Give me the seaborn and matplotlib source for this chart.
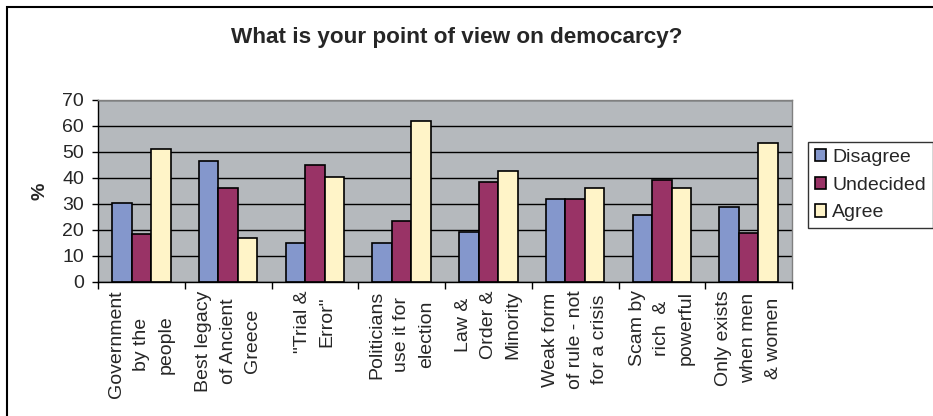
import matplotlib
matplotlib.use("Agg")
import matplotlib.pyplot as plt
import matplotlib.patches as patches
import numpy as np
import pandas as pd
import seaborn as sns

categories = [
    "Government\nby the\npeople",
    "Best legacy\nof Ancient\nGreece",
    "\"Trial &\nError\"",
    "Politicians\nuse it for\nelection",
    "Law &\nOrder &\nMinority",
    "Weak form\nof rule - not\nfor a crisis",
    "Scam by\nrich  &\npowerful",
    "Only exists\nwhen men\n& women",
]
disagree = [30.3, 46.7, 15.1, 15.1, 19.1, 32.0, 25.8, 28.7]
undecided = [18.6, 36.2, 44.9, 23.3, 38.5, 32.0, 39.2, 18.7]
agree = [51.3, 17.0, 40.3, 61.8, 42.7, 36.3, 36.3, 53.3]
series = ["Disagree", "Undecided", "Agree"]
colors = ["#8497cc", "#993366", "#fff4c8"]

df = pd.DataFrame({
    "category": categories * 3,
    "answer": [s for s in series for _ in categories],
    "value": disagree + undecided + agree,
})

sns.set_style("white")
plt.rcParams["font.family"] = ["Liberation Sans", "DejaVu Sans"]

fig = plt.figure(figsize=(9.33, 4.16), dpi=100)
ax = fig.add_axes([98 / 933, 1 - 282 / 416, 694 / 933, 182 / 416])

sns.barplot(data=df, x="category", y="value", hue="answer", hue_order=series,
            palette=colors, width=0.675, edgecolor="black", linewidth=1.2,
            saturation=1, ax=ax, legend=True)

ax.set_facecolor("#b5b9bd")
ax.set_ylim(0, 70)
ax.set_xlim(-0.5, len(categories) - 0.5)
ax.set_yticks(range(0, 71, 10))
ax.yaxis.grid(True, color="black", linewidth=1.0)
ax.set_axisbelow(True)

# group separators as major ticks, labels on minor ticks
ax.set_xticks(np.arange(-0.5, len(categories), 1.0))
ax.set_xticklabels([])
ax.set_xticks(range(len(categories)), minor=True)
ax.set_xticklabels(categories, minor=True, rotation=90, ha="center", va="top",
                   ma="center", linespacing=1.6, fontsize=14)
ax.tick_params(axis="x", which="major", direction="out", length=5, width=1, color="black", bottom=True)
ax.tick_params(axis="x", which="minor", length=0, pad=6)
ax.tick_params(axis="y", direction="out", length=4, width=1, color="black", pad=6,
               labelsize=14, left=True)

for side in ["left", "bottom"]:
    ax.spines[side].set_color("black")
    ax.spines[side].set_linewidth(1.0)
for side in ["top", "right"]:
    ax.spines[side].set_color("#808080")
    ax.spines[side].set_linewidth(1.0)

ax.set_xlabel("")
ax.set_ylabel("%", fontsize=14, fontweight="bold", labelpad=10)

leg = ax.legend(loc="upper left", bbox_to_anchor=(808 / 933, 1 - 142 / 416),
                bbox_transform=fig.transFigure, frameon=True, fancybox=False,
                edgecolor="black", fontsize=14, handlelength=0.6, handleheight=0.6,
                handletextpad=0.3, labelspacing=0.55, borderpad=0.35, borderaxespad=0)
leg.get_frame().set_linewidth(1.0)

fig.text(457 / 933, 1 - 37 / 416, "What is your point of view on democarcy?",
         ha="center", va="center", fontsize=16.2, fontweight="bold")

fig.patches.append(patches.Rectangle((7 / 933, -0.1), 1.2, 1.1 - 7 / 416,
                                     transform=fig.transFigure, fill=False,
                                     edgecolor="black", linewidth=1.5))

fig.savefig("out.png", dpi=100)
